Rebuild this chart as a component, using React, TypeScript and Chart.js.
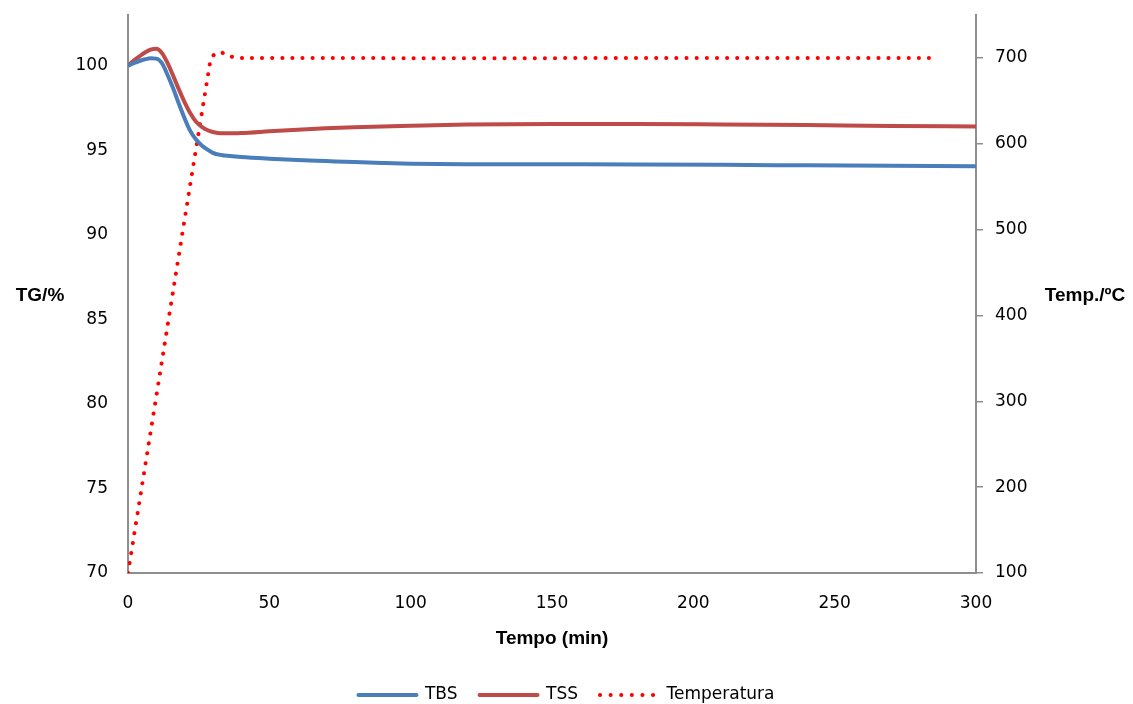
import React, { useEffect, useRef } from "react";
import { Chart, registerables } from "chart.js";

Chart.register(...registerables);

// Time (min) for the TG curves
const TIME_TG = [0, 2, 4, 6, 8, 10, 12, 14, 16, 18, 20, 22, 24, 26, 28, 30, 33, 36, 40, 50, 60, 70, 80, 90, 100, 120, 150, 180, 210, 240, 270, 300];
// TBS mass (%)
const TBS = [100.0, 100.15, 100.28, 100.38, 100.44, 100.42, 100.15, 99.45, 98.65, 97.75, 96.9, 96.15, 95.65, 95.3, 95.05, 94.85, 94.72, 94.66, 94.6, 94.5, 94.42, 94.36, 94.3, 94.25, 94.21, 94.18, 94.17, 94.16, 94.14, 94.11, 94.08, 94.05];
// TSS mass (%)
const TSS = [100.0, 100.3, 100.55, 100.78, 100.95, 101.0, 100.75, 100.15, 99.4, 98.6, 97.85, 97.2, 96.7, 96.4, 96.2, 96.08, 96.0, 96.0, 96.02, 96.12, 96.22, 96.3, 96.36, 96.41, 96.45, 96.52, 96.56, 96.56, 96.53, 96.49, 96.44, 96.41];
// Temperature program
const TIME_TEMP = [0, 29, 30, 31, 32.5, 34, 36, 40, 285];
const TEMP = [100, 694, 702, 705, 707, 705, 702, 700, 700];

const X_TICKS = [0, 50, 100, 150, 200, 250, 300];
const LEFT_TICKS = [70, 75, 80, 85, 90, 95, 100];
const RIGHT_TICKS = [100, 200, 300, 400, 500, 600, 700];

const LABELS = ["TBS", "TSS", "Temperatura"];
const COLORS = ["#4A7EBB", "#BE4B48", "#FF0000"];

const TICK_FONT = { family: "'DejaVu Sans', Verdana, sans-serif", size: 17 };
const TITLE_FONT_CSS = "bold 19px 'Liberation Sans', Arial, sans-serif";
const AXIS_COLOR = "#8E8E8E";

export default function App() {
  const ref = useRef<HTMLCanvasElement | null>(null);

  useEffect(() => {
    if (!ref.current) return;

    const sideTitles = {
      id: "sideTitles",
      afterDraw(chart: any) {
        const ctx = chart.ctx;
        const yMid = 296;
        ctx.save();
        ctx.font = TITLE_FONT_CSS;
        ctx.fillStyle = "#000";
        ctx.textAlign = "center";
        ctx.textBaseline = "middle";
        ctx.fillText("TG/%", 40, yMid);
        ctx.fillText("Temp./ºC", 1085, yMid);
        ctx.restore();
      },
    };

    const zeroPad = (s: any) => {
      s.paddingTop = 0;
      s.paddingBottom = 0;
    };

    const chart = new Chart(ref.current, {
      type: "line",
      data: {
        datasets: [
          {
            label: LABELS[0],
            data: TIME_TG.map((t, i) => ({ x: t, y: TBS[i] })),
            borderColor: COLORS[0],
            backgroundColor: COLORS[0],
            borderWidth: 4,
            pointRadius: 0,
            cubicInterpolationMode: "monotone",
            yAxisID: "y",
          },
          {
            label: LABELS[1],
            data: TIME_TG.map((t, i) => ({ x: t, y: TSS[i] })),
            borderColor: COLORS[1],
            backgroundColor: COLORS[1],
            borderWidth: 4,
            pointRadius: 0,
            cubicInterpolationMode: "monotone",
            yAxisID: "y",
          },
          {
            label: LABELS[2],
            data: TIME_TEMP.map((t, i) => ({ x: t, y: TEMP[i] })),
            borderColor: COLORS[2],
            backgroundColor: COLORS[2],
            borderWidth: 4,
            borderDash: [0.1, 10],
            borderCapStyle: "round",
            pointRadius: 0,
            tension: 0.3,
            yAxisID: "y1",
          },
        ],
      },
      options: {
        responsive: false,
        animation: false,
        layout: { padding: { top: 15, left: 0, right: 0, bottom: -9.5 } },
        plugins: {
          tooltip: { enabled: false },
          legend: {
            position: "bottom",
            labels: {
              usePointStyle: true,
              pointStyleWidth: 58,
              boxHeight: 4,
              padding: 22,
              color: "#000",
              font: TICK_FONT,
              generateLabels: () =>
                LABELS.map((l, i) => ({
                  text: l,
                  pointStyle: "line",
                  strokeStyle: COLORS[i],
                  fillStyle: COLORS[i],
                  lineWidth: 4,
                  lineCap: "round",
                  lineDash: i === 2 ? [0.1, 10.5] : [],
                  datasetIndex: i,
                  hidden: false,
                  fontColor: "#000",
                })),
            },
          },
        },
        scales: {
          x: {
            type: "linear",
            min: 0,
            max: 300,
            afterBuildTicks: (s: any) => {
              s.ticks = X_TICKS.map((v) => ({ value: v }));
            },
            afterFit: (s: any) => {
              s.height = 91.5;
            },
            grid: { display: false, drawTicks: false },
            border: { display: true, color: AXIS_COLOR, width: 2 },
            ticks: { color: "#000", font: TICK_FONT, padding: 20, maxRotation: 0 },
            title: {
              display: true,
              text: "Tempo (min)",
              color: "#000",
              font: { family: "'Liberation Sans', Arial, sans-serif", size: 19, weight: "bold" },
              padding: { top: 0, bottom: 14.5 },
            },
          },
          y: {
            type: "linear",
            position: "left",
            min: 70,
            max: 103,
            afterBuildTicks: (s: any) => {
              s.ticks = LEFT_TICKS.map((v) => ({ value: v }));
            },
            afterFit: (s: any) => {
              s.width = 128;
              zeroPad(s);
            },
            grid: { display: false, drawTicks: false },
            border: { display: true, color: AXIS_COLOR, width: 2 },
            ticks: { color: "#000", font: TICK_FONT, padding: 20 },
          },
          y1: {
            type: "linear",
            position: "right",
            min: 100,
            max: 750,
            afterBuildTicks: (s: any) => {
              s.ticks = RIGHT_TICKS.map((v) => ({ value: v }));
            },
            afterFit: (s: any) => {
              s.width = 157;
              zeroPad(s);
            },
            grid: {
              display: true,
              drawOnChartArea: false,
              drawTicks: true,
              tickLength: 7,
              color: AXIS_COLOR,
              lineWidth: 1.5,
            },
            border: { display: true, color: AXIS_COLOR, width: 2 },
            ticks: { color: "#000", font: TICK_FONT, padding: 12 },
          },
        },
      },
      plugins: [sideTitles],
    } as any);

    return () => chart.destroy();
  }, []);

  return (
    <div style={{ position: "fixed", left: 0, top: 0, width: 1133, height: 704, background: "#fff" }}>
      <canvas ref={ref} width={1133} height={704} style={{ display: "block" }} />
    </div>
  );
}
